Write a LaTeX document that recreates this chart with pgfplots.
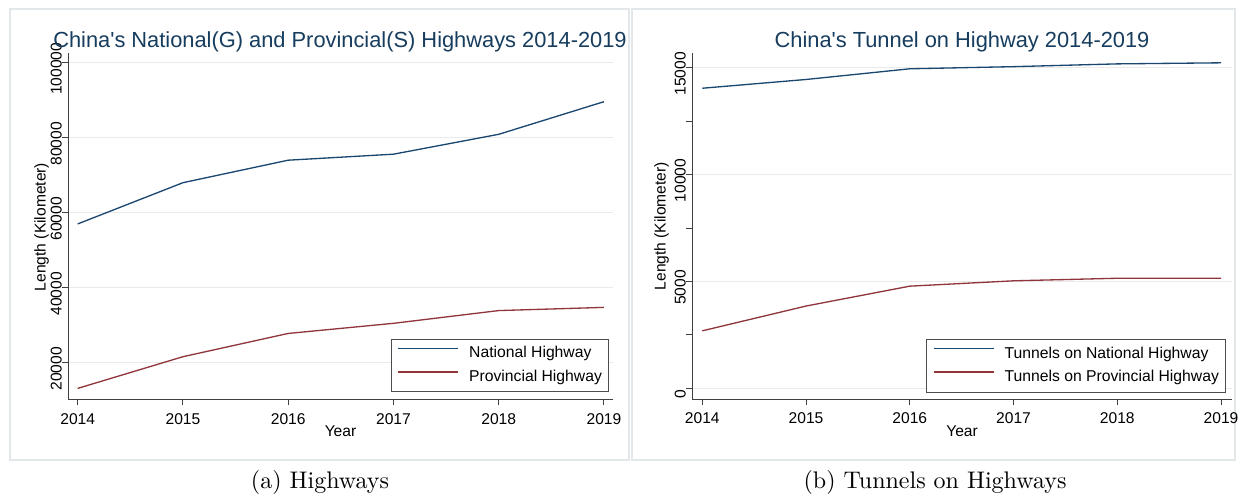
\documentclass[border=0pt]{standalone}
\usepackage{fontspec}
\usepackage{pgfplots}
\pgfplotsset{compat=1.18}
\newfontfamily\arial{Liberation Sans}
\definecolor{stnavy}{RGB}{26,71,111}
\definecolor{stmaroon}{RGB}{144,53,59}
\definecolor{framegray}{RGB}{226,231,233}
\definecolor{gridgray}{RGB}{234,234,234}
\newcommand{\chartfont}{\arial\fontsize{6.5}{7.5}\selectfont}

\pgfplotsset{
  stataaxis/.style={
    scale only axis,
    axis lines=left,
    axis line style={-, black!75, line width=0.42pt},
    tick align=outside,
    major tick length=2.4pt,
    minor tick length=2.4pt,
    tick style={black!75, line width=0.42pt},
    scaled y ticks=false,
    scaled x ticks=false,
    ymajorgrids,
    grid style={gridgray, line width=0.42pt},
    xtick={2014,2015,2016,2017,2018,2019},
    xticklabels={2014,2015,2016,2017,2018,2019},
    ticklabel style={font=\chartfont, inner sep=0pt},
    xticklabel style={anchor=north, yshift=-3.2pt},
    yticklabel style={rotate=90, anchor=south, xshift=-2.5pt},
    label style={font=\chartfont},
    xlabel={Year},
    ylabel={Length (Kilometer)},
    xlabel style={at={(axis description cs:0.5,-0.108)}, anchor=base},
    legend cell align=left,
    legend image code/.code={\draw[##1] (0pt,2.3pt) -- (25pt,2.3pt);},
    legend style={draw=black!70, line width=0.42pt, fill=white,
      font=\arial\fontsize{6.55}{8}\selectfont,
      inner xsep=2.75pt, inner ysep=2.85pt, row sep=3.5pt,
      nodes={inner sep=0pt},
      /tikz/every odd column/.append style={column sep=4.2pt}},
    every axis plot/.append style={line width=0.55pt},
  }
}

\begin{document}
\begin{tikzpicture}
\useasboundingbox (0pt,0pt) rectangle (518pt,206.7pt);

% panel frames
\draw[framegray, line width=0.5pt] (4.17pt,15pt) rectangle (262.13pt,202.95pt);
\draw[framegray, line width=0.5pt] (263.38pt,15pt) rectangle (514.67pt,202.95pt);

% (a) national and provincial highways
\begin{axis}[stataaxis,
  at={(28.34pt,40.30pt)}, anchor=south west,
  width=227.12pt, height=144.19pt,
  xmin=2013.908, xmax=2019.086,
  ymin=10240, ymax=102507,
  ytick={20000,40000,60000,80000,100000},
  yticklabels={20000,40000,60000,80000,100000},
  ylabel style={at={(axis description cs:-0.0483,0.498)}, anchor=center},
  legend style={at={(0.9927,0.0202)}, anchor=south east}]
\addplot[stnavy] coordinates {(2014,57000) (2015,68000) (2016,74000) (2017,75600) (2018,80900) (2019,89600)};
\addlegendentry{National Highway}
\addplot[stmaroon] coordinates {(2014,13150) (2015,21600) (2016,27800) (2017,30500) (2018,33900) (2019,34750)};
\addlegendentry{Provincial Highway}
\end{axis}

% (b) tunnels
\begin{axis}[stataaxis,
  at={(288.38pt,40.42pt)}, anchor=south west,
  width=225.04pt, height=144.06pt,
  xmin=2013.901, xmax=2019.106,
  ymin=-500, ymax=15674,
  ytick={0,5000,10000,15000},
  yticklabels={0,5000,10000,15000},
  minor ytick={2500,7500,12500},
  ylabel style={at={(axis description cs:-0.0561,0.5)}, anchor=center},
  legend style={at={(0.9889,0.0188)}, anchor=south east}]
\addplot[stnavy] coordinates {(2014,14040) (2015,14450) (2016,14950) (2017,15050) (2018,15180) (2019,15230)};
\addlegendentry{Tunnels on National Highway}
\addplot[stmaroon] coordinates {(2014,2690) (2015,3850) (2016,4780) (2017,5030) (2018,5150) (2019,5150)};
\addlegendentry{Tunnels on Provincial Highway}
\end{axis}

% titles
\node[anchor=base, font=\arial\fontsize{9.1}{10}\selectfont, text=stnavy!85!black, inner sep=0pt]
  at (141.69pt,187.11pt) {China's National(G) and Provincial(S) Highways 2014-2019};
\node[anchor=base, font=\arial\fontsize{9.1}{10}\selectfont, text=stnavy!85!black, inner sep=0pt]
  at (400.90pt,187.11pt) {China's Tunnel on Highway 2014-2019};

% captions
\node[anchor=base, inner sep=0pt] at (133.35pt,3.33pt) {(a) Highways};
\node[anchor=base, inner sep=0pt] at (389.65pt,3.33pt) {(b) Tunnels on Highways};
\end{tikzpicture}
\end{document}
